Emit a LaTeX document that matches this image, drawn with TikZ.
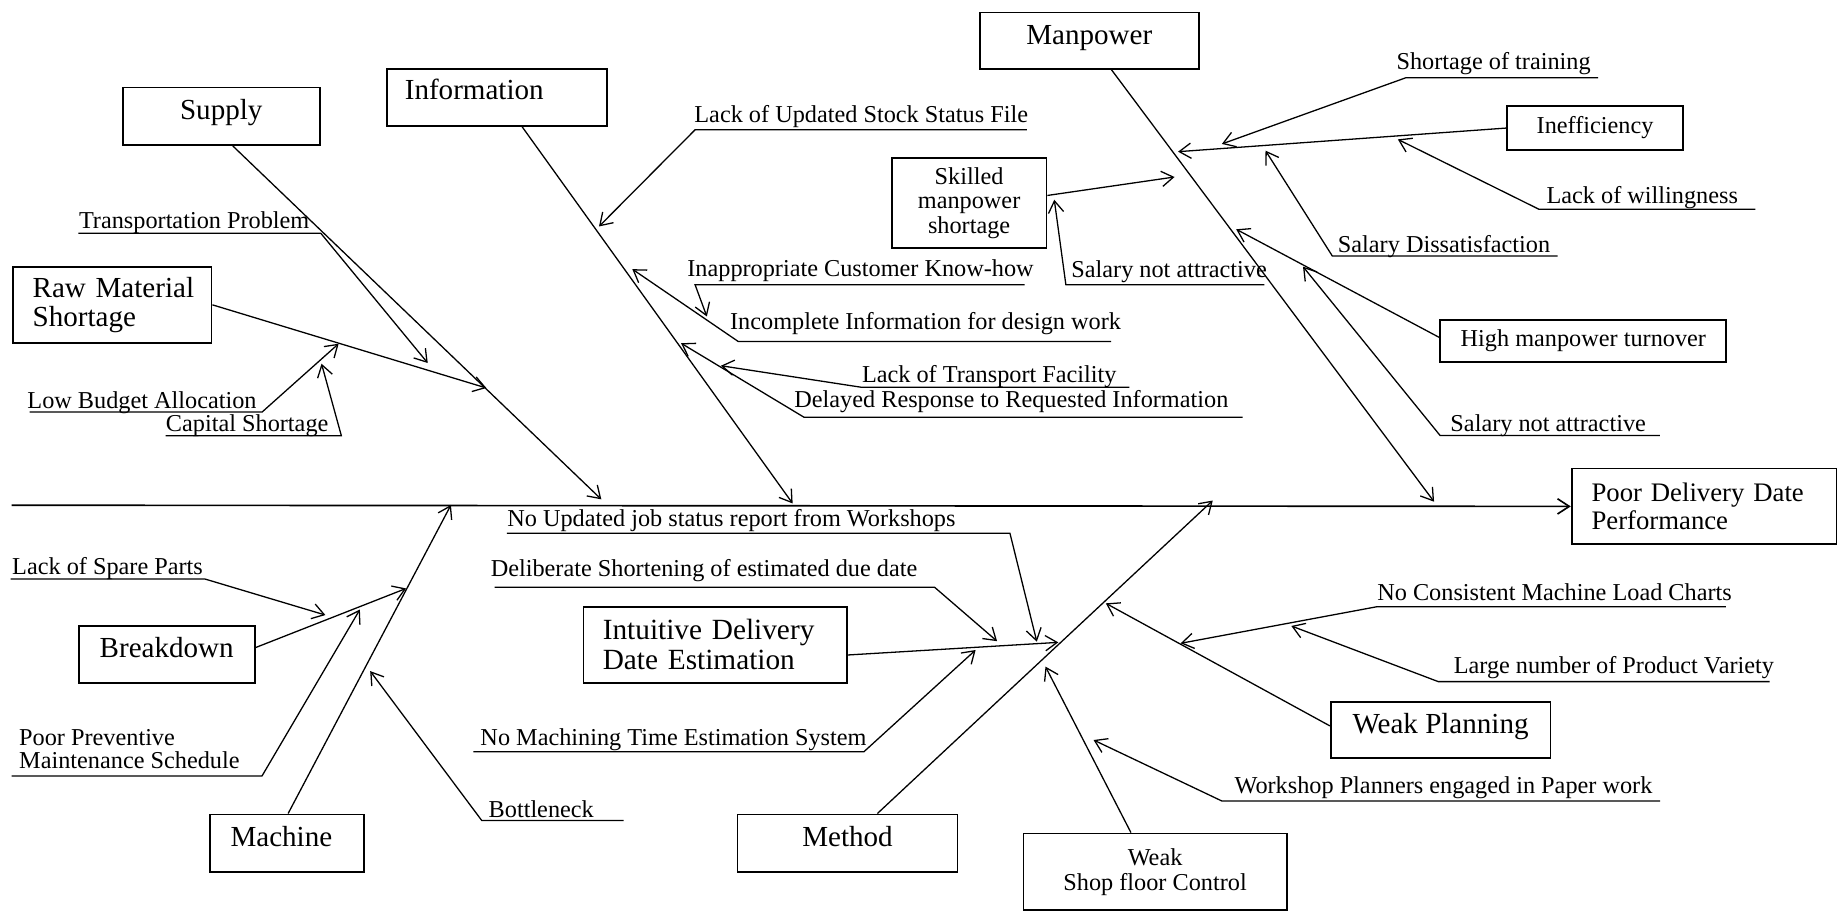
\documentclass[tikz,border=0pt]{standalone}
\usepackage{fontspec}
\setmainfont{Liberation Serif}
\usetikzlibrary{arrows.meta}
\begin{document}
\begin{tikzpicture}[x=0.5pt,y=-0.5pt,
  >={Straight Barb[length=5pt,width=6.5pt]},
  conn/.style={line width=0.55pt,->},
  box/.style={draw,line width=0.75pt,inner sep=0pt,anchor=north west,align=center,font=\fontsize{12.4}{12.4}\selectfont},
  onel/.style={text height=8.6pt,text depth=5.8pt},
  lbox/.style={box,align=left,text width=#1},
  sbox/.style={box,font=\fontsize{10.35}{10.5}\selectfont},
  lbl/.style={inner sep=0pt,anchor=base west,font=\fontsize{10.35}{10.35}\selectfont}]
\useasboundingbox (0,0) rectangle (1568,781);

% ---------- boxes ----------
\node[box,onel,minimum width=84pt,minimum height=24.5pt] (supply) at (104,74) {Supply};
\node[lbox=93.8pt,onel,text depth=6.6pt,minimum width=93.8pt,minimum height=24.15pt] (info) at (329.4,58.3) {\hspace*{7.6pt}Information};
\node[box,onel,minimum width=93.5pt,minimum height=24pt] (man) at (835,10) {Manpower};
\node[lbox=84.8pt,minimum width=84.8pt,minimum height=32.5pt] (raw) at (10.1,226.8) {\hspace*{8.5pt}Raw Material\\\hspace*{8.5pt}Shortage};
\node[sbox,minimum width=66pt,minimum height=38.5pt] (skilled) at (760,134) {Skilled\\manpower\\shortage};
\node[sbox,minimum width=75pt,minimum height=18.5pt] (ineff) at (1285,90) {Inefficiency};
\node[sbox,minimum width=122pt,minimum height=18pt] (hmt) at (1228,272) {High manpower turnover};
\node[lbox=113pt,minimum width=113pt,minimum height=32.25pt,font=\fontsize{11.4}{12}\selectfont] (poor) at (1340,399) {\hspace*{8.5pt}Poor Delivery Date\\\hspace*{8.5pt}Performance};
\node[box,onel,minimum width=75pt,minimum height=24.3pt] (brk) at (66.5,533) {Breakdown};
\node[box,onel,minimum width=65.7pt,minimum height=24.5pt] (machine) at (178.6,694) {Machine\hspace*{5pt}};
\node[lbox=112.5pt,minimum width=112.5pt,minimum height=32.3pt,font=\fontsize{12.5}{12.8}\selectfont] (int) at (497,517) {\hspace*{8.25pt}Intuitive Delivery\\\hspace*{8.25pt}Date Estimation};
\node[box,onel,minimum width=93.75pt,minimum height=24.5pt] (method) at (628.5,694) {Method};
\node[box,onel,minimum width=93.7pt,minimum height=24pt] (wp) at (1134.5,598) {Weak Planning};
\node[sbox,minimum width=112.35pt,minimum height=32.75pt,font=\fontsize{10.35}{10.7}\selectfont] (wsc) at (872.3,710.3) {Weak\\Shop floor Control};

% ---------- spine ----------
\coordinate (spL) at (9.9,431);
\draw[line width=0.7pt,->] (spL) -- (poor.west);

% ---------- main bones ----------
\coordinate (supT) at (513,426);
\coordinate (infT) at (676.2,429.5);
\coordinate (manT) at (1223.4,428);
\coordinate (macT) at (384.7,430.8);
\coordinate (metT) at (1034.6,427);
\draw[conn] ([xshift=47.3pt]supply.south west) -- (supT);
\draw[conn] ([xshift=58pt]info.south west) -- (infT);
\draw[conn] ([xshift=56.6pt]man.south west) -- (manT);
\draw[conn] ([xshift=33.6pt]machine.north west) -- (macT);
\draw[conn] ([xshift=60pt]method.north west) -- (metT);

% ---------- box sub-bones ----------
\coordinate (rawT) at (414.9,331);
\coordinate (skT) at (1002,151);
\coordinate (ineT) at (1005,129.4);
\coordinate (hmtT) at (1054.6,195.6);
\coordinate (brkT) at (346.5,502);
\coordinate (intT) at (902.8,548);
\coordinate (wpT) at (943.4,514.7);
\coordinate (wscT) at (891.9,568.7);
\draw[conn] (raw.east) -- (rawT);
\draw[conn] ([yshift=3.25pt]skilled.east) -- (skT);
\draw[conn] (ineff.west) -- (ineT);
\draw[conn] ([yshift=1.4pt]hmt.west) -- (hmtT);
\draw[conn] ([yshift=2.8pt]brk.east) -- (brkT);
\draw[conn] ([yshift=-4.35pt]int.east) -- (intT);
\draw[conn] ([yshift=1.75pt]wp.west) -- (wpT);
\draw[conn] ([xshift=46.25pt]wsc.north west) -- (wscT);

% ---------- labels: supply / raw material ----------
\node[lbl] (tp) at (67,194.7) {Transportation Problem};
\coordinate (tpA) at (66.9,198.9); \coordinate (tpB) at (273.6,198.9); \coordinate (tpT) at (364.9,309.7);
\draw[conn] (tpA) -- (tpB) -- (tpT);

\node[lbl] (lb) at (23,348.1) {Low Budget Allocation};
\coordinate (lbA) at (25.3,351.5); \coordinate (lbB) at (223.6,351.5); \coordinate (lbT) at (288.9,293.2);
\draw[conn] (lbA) -- (lbB) -- (lbT);

\node[lbl] (cs) at (141.2,368) {Capital Shortage};
\coordinate (csA) at (141.2,371.7); \coordinate (csB) at (291.2,371.7); \coordinate (csT) at (274.3,310.3);
\draw[conn] (csA) -- (csB) -- (csT);

% ---------- labels: information ----------
\node[lbl] (ls) at (592,104.4) {Lack of Updated Stock Status File};
\coordinate (lsA) at (593,110.7); \coordinate (lsB) at (876,110.7); \coordinate (lsT) at (511,193.2);
\draw[conn] (lsB) -- (lsA) -- (lsT);

\node[lbl] (ic) at (586,235.9) {Inappropriate Customer Know-how};
\coordinate (icA) at (593,243); \coordinate (icB) at (874,243); \coordinate (icT) at (603,270);
\draw[conn] (icB) -- (icA) -- (icT);

\node[lbl] (ii) at (622.5,281.5) {Incomplete Information for design work};
\coordinate (iiA) at (629.9,291.4); \coordinate (iiB) at (947.9,291.4); \coordinate (iiT) at (539.4,229.6);
\draw[conn] (iiB) -- (iiA) -- (iiT);

\node[lbl] (lt) at (735,326.4) {Lack of Transport Facility};
\coordinate (ltA) at (735,330.4); \coordinate (ltB) at (963.5,330.4); \coordinate (ltT) at (615,312);
\draw[conn] (ltB) -- (ltA) -- (ltT);

\node[lbl] (dr) at (677.3,347.5) {Delayed Response to Requested Information};
\coordinate (drA) at (686,356); \coordinate (drB) at (1060,356); \coordinate (drT) at (581,292.8);
\draw[conn] (drB) -- (drA) -- (drT);

% ---------- labels: manpower ----------
\node[lbl] (sa) at (913.6,236.5) {Salary not attractive};
\coordinate (saA) at (909.3,243); \coordinate (saB) at (1078.6,243); \coordinate (saT) at (899.4,170.4);
\draw[conn] (saB) -- (saA) -- (saT);

\node[lbl] (st) at (1191,59.7) {Shortage of training};
\coordinate (stA) at (1199.4,66.3); \coordinate (stB) at (1363.3,66.3); \coordinate (stT) at (1042.4,122.8);
\draw[conn] (stB) -- (stA) -- (stT);

\node[lbl] (lw) at (1319,173.4) {Lack of willingness};
\coordinate (lwA) at (1313,178.6); \coordinate (lwB) at (1497.5,178.6); \coordinate (lwT) at (1192.5,118.9);
\draw[conn] (lwB) -- (lwA) -- (lwT);

\node[lbl] (sd) at (1141,215.5) {Salary Dissatisfaction};
\coordinate (sdA) at (1136.6,218.4); \coordinate (sdB) at (1328.7,218.4); \coordinate (sdT) at (1079.6,128.5);
\draw[conn] (sdB) -- (sdA) -- (sdT);

\node[lbl] (sb) at (1237,368.5) {Salary not attractive};
\coordinate (sbA) at (1228.6,371.6); \coordinate (sbB) at (1416,371.6); \coordinate (sbT) at (1111.6,227.5);
\draw[conn] (sbB) -- (sbA) -- (sbT);

% ---------- labels: machine ----------
\node[lbl] (sp) at (10,490.5) {Lack of Spare Parts};
\coordinate (spA) at (9,494); \coordinate (spB) at (175,494); \coordinate (spT) at (277.6,524.7);
\draw[conn] (spA) -- (spB) -- (spT);

\node[lbl] (pp1) at (16,635.6) {Poor Preventive};
\node[lbl] (pp2) at (16,655.5) {Maintenance Schedule};
\coordinate (ppA) at (10,662); \coordinate (ppB) at (223.5,662); \coordinate (ppT) at (307,520);
\draw[conn] (ppA) -- (ppB) -- (ppT);

\node[lbl] (bn) at (416.5,697) {Bottleneck};
\coordinate (bnA) at (411,700); \coordinate (bnB) at (532,700); \coordinate (bnT) at (315.8,572.5);
\draw[conn] (bnB) -- (bnA) -- (bnT);

% ---------- labels: method ----------
\node[lbl] (nu) at (432.4,449.3) {No Updated job status report from Workshops};
\coordinate (nuA) at (432.4,455); \coordinate (nuB) at (861.6,455); \coordinate (nuT) at (884.5,547.4);
\draw[conn] (nuA) -- (nuB) -- (nuT);

\node[lbl] (ds) at (418.3,492) {Deliberate Shortening of estimated due date};
\coordinate (dsA) at (422,501); \coordinate (dsB) at (797.3,501); \coordinate (dsT) at (850.6,547);
\draw[conn] (dsA) -- (dsB) -- (dsT);

\node[lbl] (nm) at (409.5,635.6) {No Machining Time Estimation System};
\coordinate (nmA) at (403.8,641.3); \coordinate (nmB) at (737,641.3); \coordinate (nmT) at (832.3,554.5);
\draw[conn] (nmA) -- (nmB) -- (nmT);

% ---------- labels: planning / shop floor ----------
\node[lbl] (nc) at (1174.6,512) {No Consistent Machine Load Charts};
\coordinate (ncA) at (1174.6,517.6); \coordinate (ncB) at (1472.3,517.6); \coordinate (ncT) at (1007.2,548.8);
\draw[conn] (ncB) -- (ncA) -- (ncT);

\node[lbl] (ln) at (1239.8,574.4) {Large number of Product Variety};
\coordinate (lnA) at (1227,581.5); \coordinate (lnB) at (1509.7,581.5); \coordinate (lnT) at (1101.6,534);
\draw[conn] (lnB) -- (lnA) -- (lnT);

\node[lbl] (wk) at (1052.8,676.8) {Workshop Planners engaged in Paper work};
\coordinate (wkA) at (1042.3,683.3); \coordinate (wkB) at (1416.3,683.3); \coordinate (wkT) at (932.9,631.3);
\draw[conn] (wkB) -- (wkA) -- (wkT);
\end{tikzpicture}
\end{document}
